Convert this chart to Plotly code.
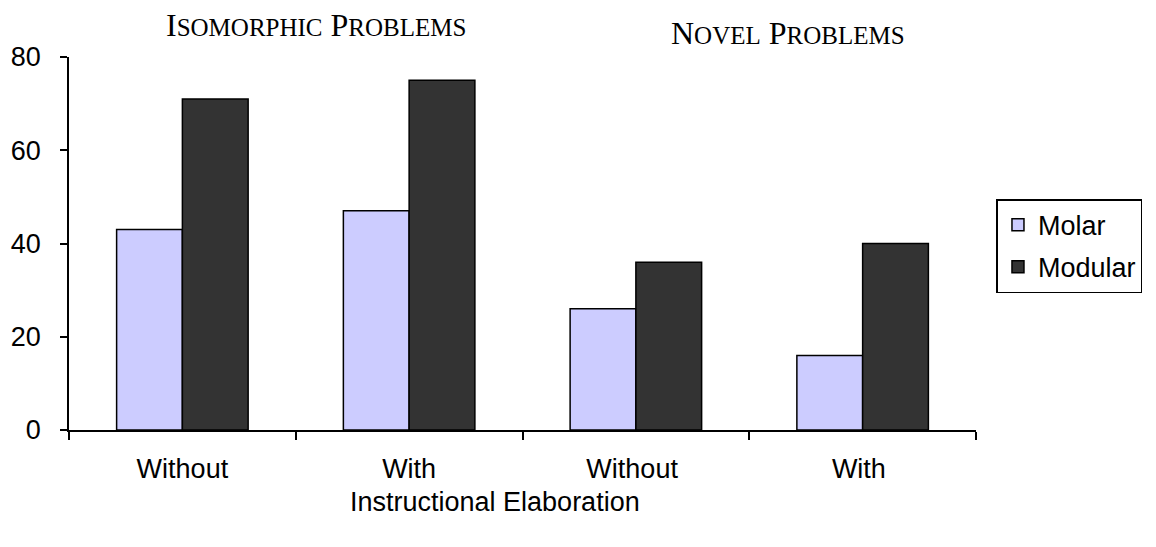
import plotly.graph_objs as go

# data
categories = ["Without", "With", "Without ", "With "]
molar = [43, 47, 26, 16]
modular = [71, 75, 36, 40]
y_ticks = [0, 20, 40, 60, 80]

SERIF = "Liberation Serif, Times New Roman, serif"
SANS = "Liberation Sans, Arial, sans-serif"
FS = 27


def small_caps(text, small):
    """Fake small caps: first letter of each word big, rest smaller."""
    words = []
    for w in text.split():
        words.append(f"{w[0]}<span style='font-size:{small}px'>{w[1:].upper()}</span>")
    return " ".join(words)


trace_molar = go.Bar(x=categories, y=molar, name="Molar", legendgroup="a",
                     marker=dict(color="#CCCCFF", line=dict(color="black", width=1.5)))
trace_modular = go.Bar(x=categories, y=modular, name="Modular", legendgroup="b",
                       marker=dict(color="#333333", line=dict(color="black", width=1.5)))

layout = go.Layout(
    width=1156, height=547,
    margin=dict(l=69, r=180, t=57, b=117),
    paper_bgcolor="white", plot_bgcolor="white",
    font=dict(family=SANS, size=FS, color="black"),
    barmode="group", bargap=0.42, bargroupgap=0,
    xaxis=dict(type="category", showline=True, linecolor="black", linewidth=1.5,
               ticks="outside", tickson="boundaries", ticklen=8, tickwidth=1.5,
               tickcolor="black", showgrid=False, tickfont=dict(size=FS),
               ticklabelstandoff=14, automargin=False),
    yaxis=dict(range=[0, 80], tickmode="array", tickvals=y_ticks,
               showline=True, linecolor="black", linewidth=1.5,
               ticks="outside", ticklen=7, tickwidth=1.5, tickcolor="black",
               showgrid=False, zeroline=False, tickfont=dict(size=FS),
               ticklabelstandoff=14, automargin=False),
    # legend placed against the whole page so it doesn't squeeze the plot
    legend=dict(xref="container", yref="container", x=0.862, xanchor="left",
                y=0.636, yanchor="top",
                bordercolor="black", borderwidth=1.5, font=dict(size=FS),
                traceorder="grouped", tracegroupgap=4,
                itemclick=False),
    showlegend=True,
)

fig = go.Figure(data=[trace_molar, trace_modular], layout=layout)

# group headings and the x axis title
fig.add_annotation(text=small_caps("Isomorphic Problems", 25), xref="paper", yref="paper",
                   x=0.272, xanchor="center", y=1.0, yanchor="middle", yshift=57 - 25,
                   showarrow=False, font=dict(family=SERIF, size=32, color="black"))
fig.add_annotation(text=small_caps("Novel Problems", 25), xref="paper", yref="paper",
                   x=0.793, xanchor="center", y=1.0, yanchor="middle", yshift=57 - 33,
                   showarrow=False, font=dict(family=SERIF, size=32, color="black"))
fig.add_annotation(text="Instructional Elaboration", xref="paper", yref="paper",
                   x=0.47, xanchor="center", y=0, yanchor="middle", yshift=-72,
                   showarrow=False, font=dict(family=SANS, size=FS, color="black"))

fig.write_html("out.html", config={"displayModeBar": False},
               post_script="document.body.style.margin='0px';")
